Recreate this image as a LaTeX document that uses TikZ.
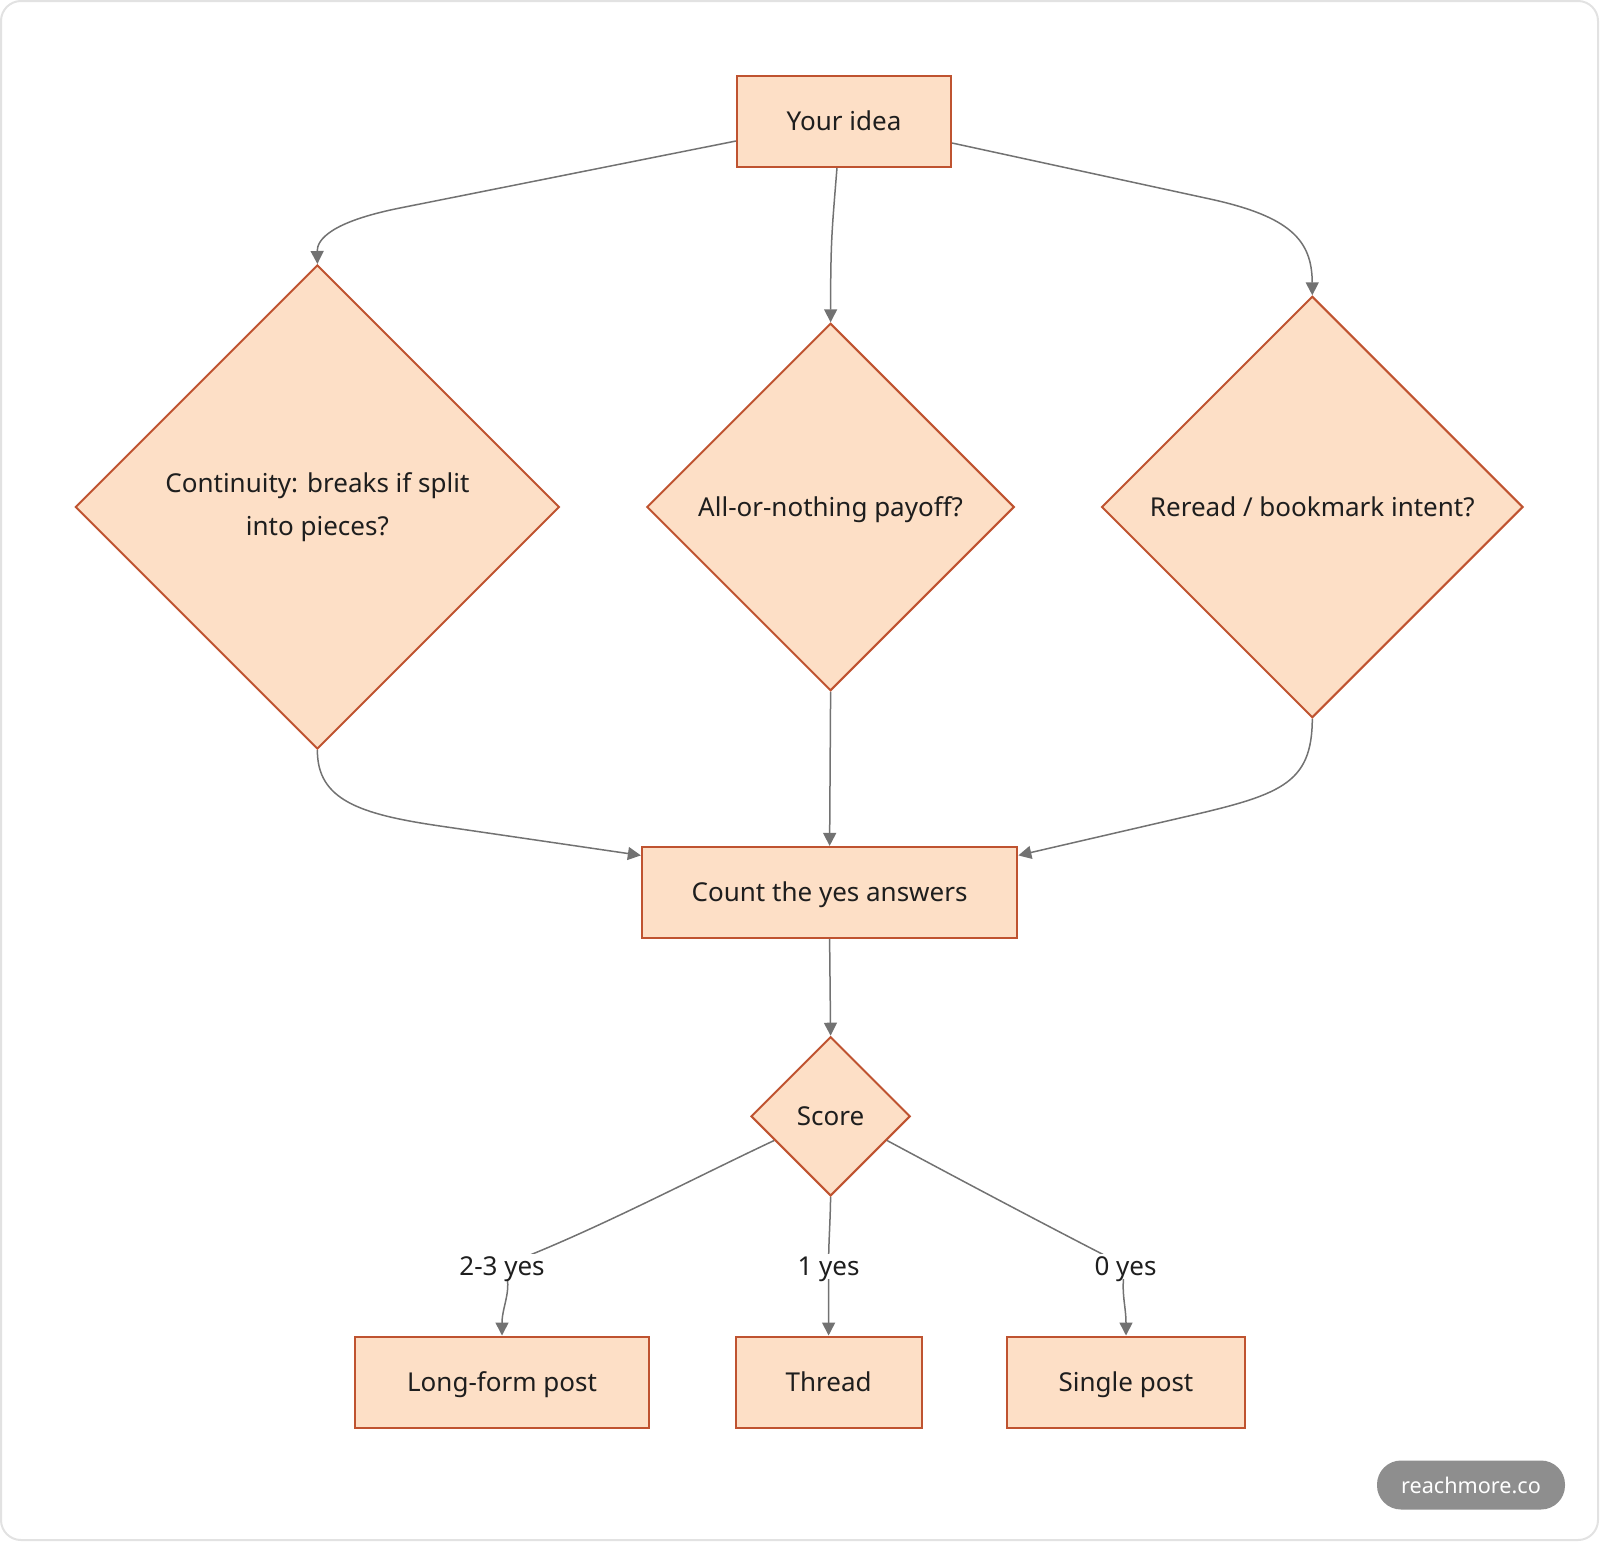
\documentclass[tikz,border=0pt]{standalone}
\usepackage{fontspec}
\setmainfont{Noto Sans}
\usetikzlibrary{calc,arrows.meta,shapes.geometric,backgrounds}
\definecolor{nodefill}{HTML}{FDDFC6}
\definecolor{nodeline}{HTML}{BF5330}
\definecolor{edgegray}{HTML}{727272}
\definecolor{inkdark}{HTML}{1E1E1E}
\definecolor{framegray}{HTML}{E2E2E2}
\definecolor{pillgray}{HTML}{8E8E8E}
\tikzset{
  base/.style={draw=nodeline, line width=1pt, fill=nodefill, text=inkdark, align=center,
    font=\fontsize{13}{21.5}\selectfont},
  oneline/.style={text height=9.5pt, text depth=0pt},
  procbox/.style={base, oneline, rectangle, minimum height=45.5pt, inner sep=0pt},
  decision/.style={base, diamond, inner sep=0pt},
  arr/.style={draw=edgegray, line width=0.75pt, -{Triangle[length=6.5pt,width=6.5pt]}},
  lbl/.style={oneline, fill=white, text=inkdark, inner sep=1.5pt, font=\fontsize{13}{15}\selectfont},
  wmark/.style={fill=pillgray, text=white, rounded corners=12pt, minimum width=94pt,
    minimum height=24.5pt, inner sep=0pt, font=\fontsize{10.8}{12}\selectfont}
}

\begin{document}
\begin{tikzpicture}[x=0.5pt, y=-0.5pt]
  \useasboundingbox (0,0) rectangle (1600,1542);

  \node[procbox, minimum width=107pt] (idea) at (844,121) {Your idea};
  \node[decision, minimum size=242pt] (cont) at (317.4,507) {Continuity: breaks if split\\into pieces?};
  \node[decision, oneline, minimum size=183.7pt] (payoff) at (830.6,507) {All-or-nothing payoff?};
  \node[decision, oneline, minimum size=210.7pt] (reread) at (1312.3,507) {Reread / bookmark intent?};
  \node[procbox, minimum width=187.75pt] (count) at (829.6,892.4) {Count the yes answers};
  \node[decision, oneline, minimum size=79.6pt] (score) at (830.6,1116.3) {Score};
  \node[procbox, minimum width=147pt] (long) at (502,1382) {Long-form post};
  \node[procbox, minimum width=92.9pt] (thread) at (828.6,1382) {Thread};
  \node[procbox, minimum width=119pt] (single) at (1126,1382) {Single post};

  \node[lbl] (many) at (502,1266) {2-3 yes};
  \node[lbl] (one) at (828.6,1266) {1 yes};
  \node[lbl] (none) at (1125.5,1266) {0 yes};

  \node[wmark] (brand) at (1471,1485) {reachmore.co};

  \begin{scope}[on background layer]
    \draw[framegray, line width=1pt, rounded corners=10pt] (1,1) rectangle (1598,1540);
    \draw[arr] ($(idea.west)+(0,20)$) -- (400,208) .. controls (330,222) and (317,240) .. (cont.north);
    \draw[arr] ($(idea.south)+(-7,0)$) .. controls (832,230) and (830.6,240) .. (payoff.north);
    \draw[arr] ($(idea.east)+(0,22)$) -- (1210,199) .. controls (1290,216.5) and (1312,240) .. (reread.north);
    \draw[arr] (cont.south) .. controls (317,800) and (360,814.3) .. (440,826) -- ($(count.west)+(0,-37)$);
    \draw[arr] (payoff.south) -- (count.north);
    \draw[arr] (reread.south) .. controls (1312,785) and (1280,795) .. (1180,818) -- ($(count.east)+(0,-37)$);
    \draw[arr] (count.south) -- (score.north);
    \draw[arr] ($(score.west)!0.3!(score.south)$) .. controls (690,1180) and (590,1233) .. (many.center)
      .. controls (515,1285) and (502,1305) .. (long.north);
    \draw[arr] (score.south) .. controls (830,1230) and (828.6,1240) .. (one.center) -- (thread.north);
    \draw[arr] ($(score.east)!0.3!(score.south)$) .. controls (970,1185) and (1055,1230) .. (none.center)
      .. controls (1120,1290) and (1126,1305) .. (single.north);
  \end{scope}
\end{tikzpicture}
\end{document}
